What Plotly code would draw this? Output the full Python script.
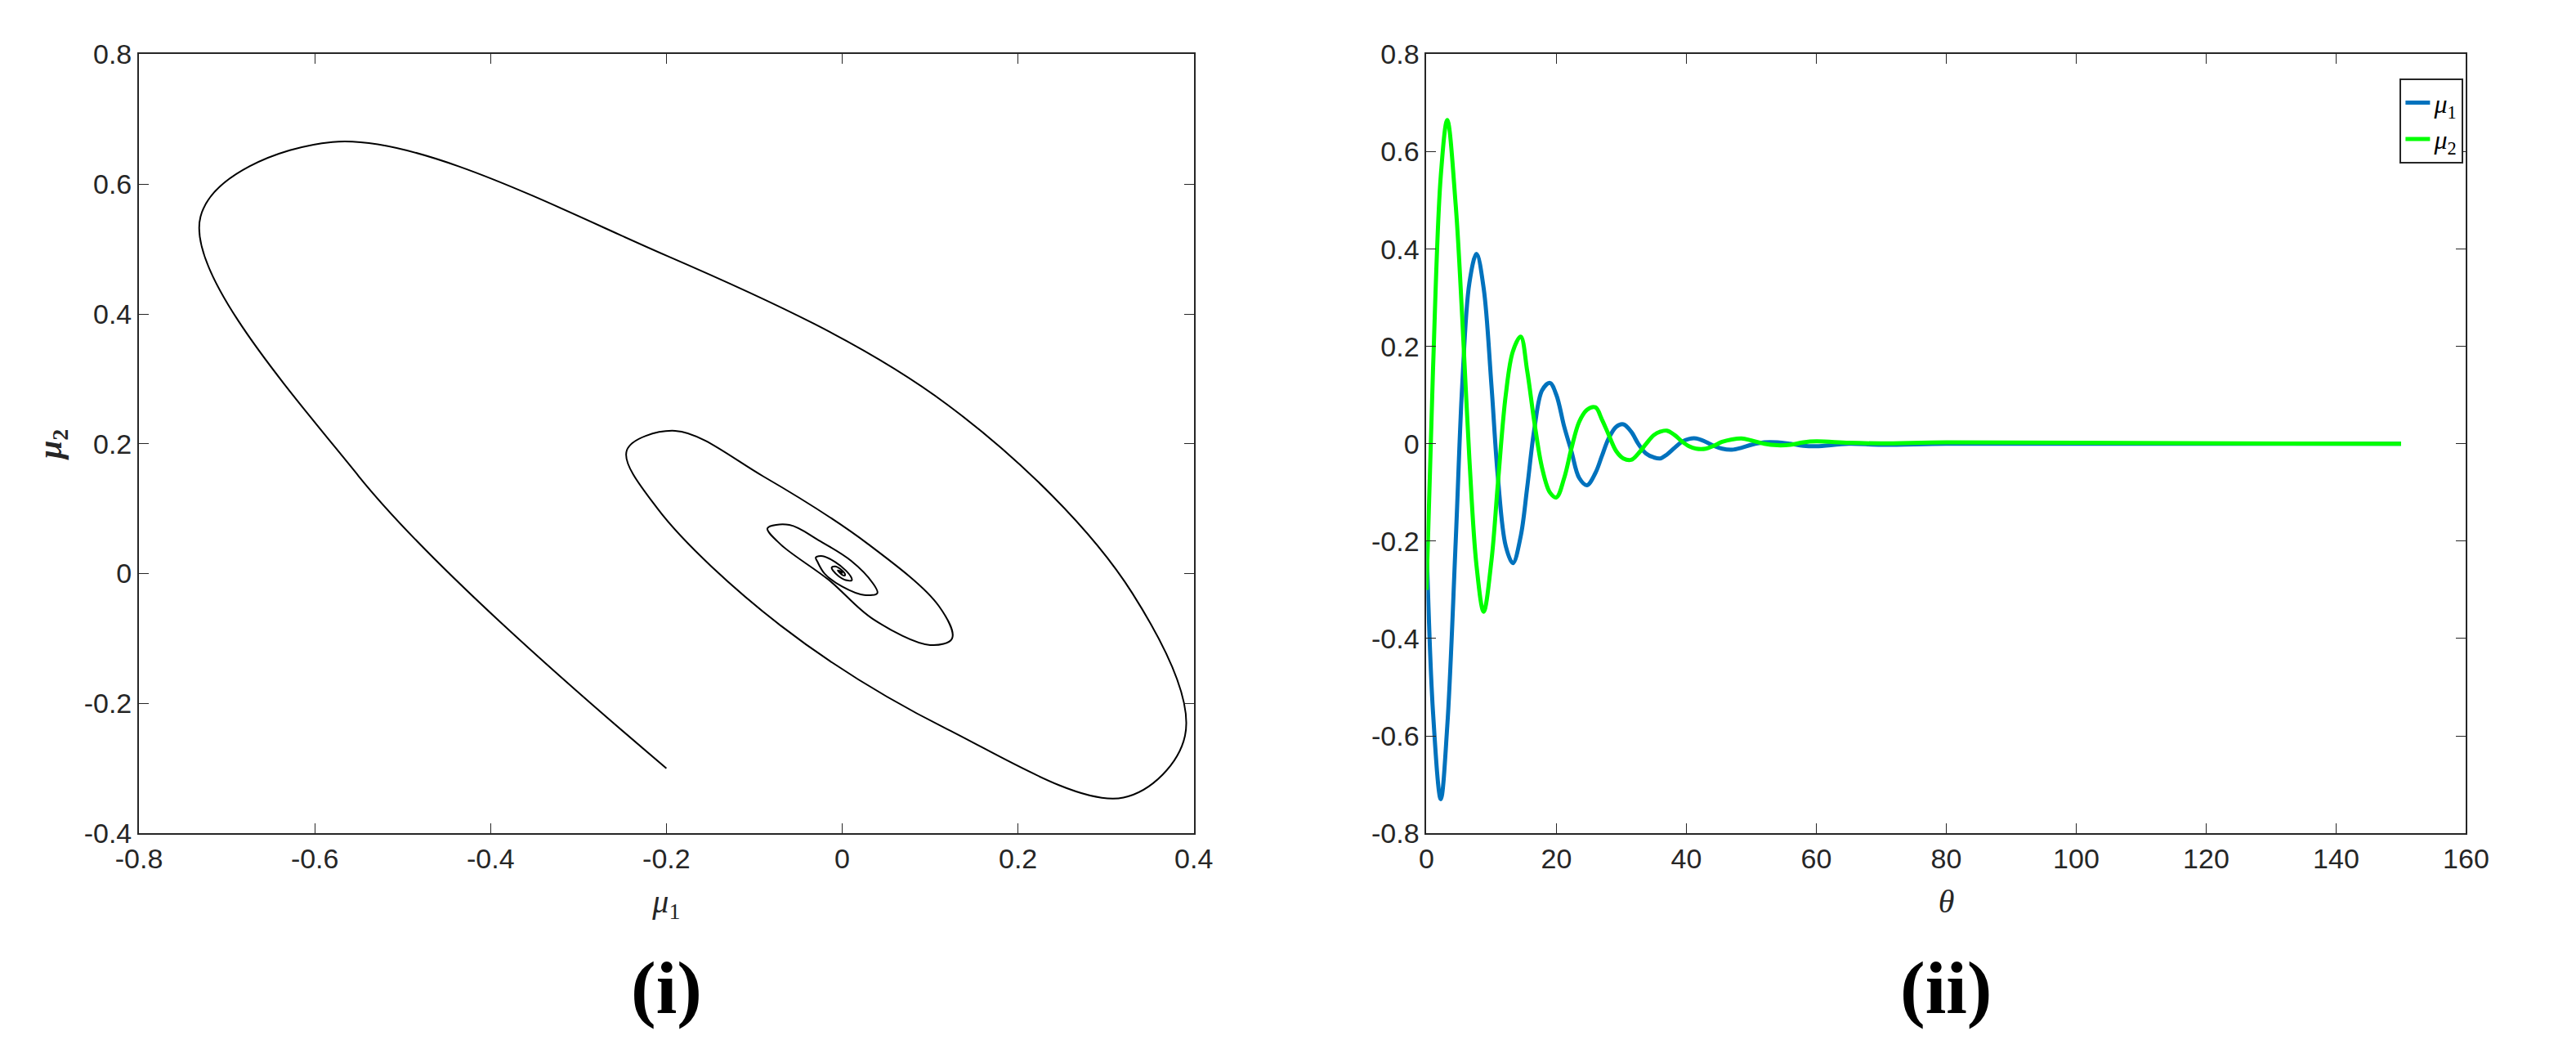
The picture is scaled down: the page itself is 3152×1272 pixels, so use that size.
import plotly.graph_objects as go

theta = [0, 1, 2.2, 3.2, 4.5, 5.5, 6.6, 7.7, 8.8, 10, 11, 12.2, 13.3, 14.5, 15.5, 16.6, 17.8, 19, 20,
         21.2, 22.3, 23.5, 24.7, 26, 27, 28, 29.2, 30.3, 31.5, 32.6, 33.8, 35, 36, 37, 38.2, 39.3, 40.4,
         41.5, 43, 44.2, 45.5, 47, 48.5, 50, 52, 54, 56, 58, 60, 65, 70, 80, 100, 150]
mu1 = [-0.2, -0.55, -0.73, -0.58, -0.2, 0.12, 0.33, 0.39, 0.32, 0.12, -0.07, -0.21, -0.245, -0.19, -0.09,
       0.03, 0.11, 0.125, 0.1, 0.035, -0.015, -0.07, -0.085, -0.06, -0.025, 0.01, 0.035, 0.04, 0.025, 0.0,
       -0.02, -0.028, -0.03, -0.022, -0.008, 0.004, 0.01, 0.011, 0.004, -0.004, -0.01, -0.012, -0.008, -0.002,
       0.003, 0.003, 0.0, -0.004, -0.005, 0.0, -0.002, 0.0, 0.0, 0.0]
mu2 = [-0.3, 0.15, 0.55, 0.665, 0.49, 0.26, -0.03, -0.25, -0.345, -0.24, -0.08, 0.1, 0.19, 0.22, 0.15, 0.045,
       -0.05, -0.1, -0.11, -0.07, -0.01, 0.045, 0.07, 0.075, 0.05, 0.02, -0.015, -0.03, -0.033, -0.02, 0.0,
       0.018, 0.025, 0.027, 0.018, 0.005, -0.005, -0.01, -0.01, -0.004, 0.004, 0.009, 0.011, 0.007, 0.0,
       -0.003, -0.002, 0.003, 0.005, 0.002, 0.001, 0.003, 0.002, 0.0]

x1_ticks = [-0.8, -0.6, -0.4, -0.2, 0, 0.2, 0.4]
y1_ticks = [-0.4, -0.2, 0, 0.2, 0.4, 0.6, 0.8]
x2_ticks = [0, 20, 40, 60, 80, 100, 120, 140, 160]
y2_ticks = [-0.8, -0.6, -0.4, -0.2, 0, 0.2, 0.4, 0.6, 0.8]

fig = go.Figure()
fig.add_trace(go.Scatter(x=mu1, y=mu2, mode="lines", line=dict(color="black", width=2, shape="spline"),
                         showlegend=False, xaxis="x", yaxis="y"))
fig.add_trace(go.Scatter(x=theta, y=mu1, mode="lines", name="<i>μ</i><sub>1</sub>",
                         line=dict(color="#0072BD", width=5, shape="spline"), xaxis="x2", yaxis="y2"))
fig.add_trace(go.Scatter(x=theta, y=mu2, mode="lines", name="<i>μ</i><sub>2</sub>",
                         line=dict(color="#00FF00", width=5, shape="spline"), xaxis="x2", yaxis="y2"))

tickfont = dict(family="Liberation Sans, Arial", size=34, color="#262626")
common = dict(showline=True, mirror="ticks", linecolor="#262626", linewidth=2, ticks="inside",
              ticklen=12, tickcolor="#262626", showgrid=False, zeroline=False, tickfont=tickfont)
titlefont = dict(family="Liberation Serif, Times New Roman", size=40, color="#262626")

def fmt(v):
    return "0" if v == 0 else ("%g" % v)

fig.update_layout(
    width=3152, height=1272, paper_bgcolor="white", plot_bgcolor="white",
    margin=dict(l=0, r=0, t=0, b=0),
    xaxis=dict(domain=[0.043, 0.460], range=[-0.8, 0.4], tickvals=x1_ticks,
               ticktext=[fmt(v) for v in x1_ticks],
               title=dict(text="<i>μ</i><sub>1</sub>", font=titlefont, standoff=20), **common),
    yaxis=dict(domain=[0.196, 0.968], range=[-0.4, 0.8], tickvals=y1_ticks,
               ticktext=[fmt(v) for v in y1_ticks],
               title=dict(text="<b><i>μ</i><sub>2</sub></b>", font=titlefont, standoff=15), **common),
    xaxis2=dict(domain=[0.552, 0.963], range=[0, 160], tickvals=x2_ticks, anchor="y2",
                title=dict(text="<i>θ</i>", font=titlefont, standoff=20), **common),
    yaxis2=dict(domain=[0.196, 0.968], range=[-0.8, 0.8], tickvals=y2_ticks, anchor="x2",
                ticktext=[fmt(v) for v in y2_ticks], **common),
    legend=dict(x=0.962, y=0.944, xanchor="right", yanchor="top", bgcolor="white",
                bordercolor="#262626", borderwidth=2,
                font=dict(family="Liberation Serif", size=32, color="black")),
    annotations=[
        dict(text="<b>(i)</b>", x=0.2515, y=0.0, xref="paper", yref="paper", xanchor="center",
             yanchor="bottom", showarrow=False, font=dict(family="Liberation Serif", size=92, color="black")),
        dict(text="<b>(ii)</b>", x=0.7575, y=0.0, xref="paper", yref="paper", xanchor="center",
             yanchor="bottom", showarrow=False, font=dict(family="Liberation Serif", size=92, color="black")),
    ],
)
fig.write_html("out.html")
